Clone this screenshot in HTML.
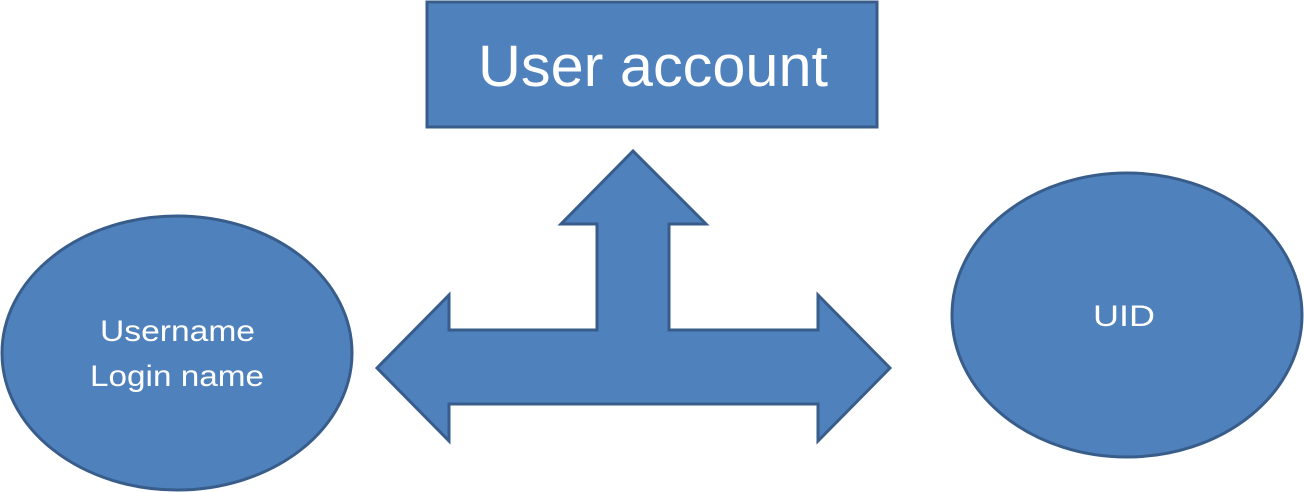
<!DOCTYPE html>
<html><head><meta charset="utf-8"><style>
html,body{margin:0;padding:0;background:#fff;width:1304px;height:492px;overflow:hidden}
svg{display:block}
text{font-family:"Liberation Sans",sans-serif;fill:#fff}
</style></head><body>
<svg width="1304" height="492" viewBox="0 0 1304 492">
<rect x="427" y="2" width="450" height="125" fill="#4F81BD" stroke="#385D8A" stroke-width="3"/>
<text x="478" y="86" font-size="58" textLength="350" lengthAdjust="spacingAndGlyphs">User account</text>
<ellipse cx="177" cy="353" rx="175" ry="137" fill="#4F81BD" stroke="#385D8A" stroke-width="3"/>
<text x="100" y="341" font-size="30" textLength="155" lengthAdjust="spacingAndGlyphs">Username</text>
<text x="90" y="386" font-size="30" textLength="174" lengthAdjust="spacingAndGlyphs">Login name</text>
<ellipse cx="1127" cy="315" rx="175" ry="142" fill="#4F81BD" stroke="#385D8A" stroke-width="3"/>
<text x="1093" y="326" font-size="30" textLength="62" lengthAdjust="spacingAndGlyphs">UID</text>
<polygon points="377,368 449,295 449,330 597,330 597,224 561,224 633,151 706,224 669,224 669,330 818,330 818,295 890,368 818,441 818,404 449,404 449,441" fill="#4F81BD" stroke="#385D8A" stroke-width="3" stroke-linejoin="miter"/>
</svg>
</body></html>
